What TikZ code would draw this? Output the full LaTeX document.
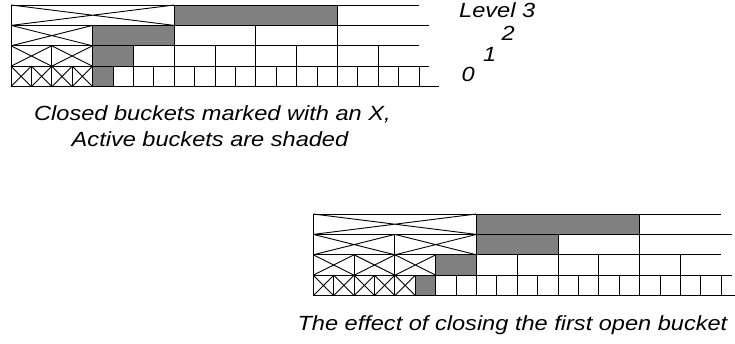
\documentclass[tikz,border=0pt]{standalone}
\usepackage{fontspec}
\setmainfont{Liberation Sans}
\usepackage{graphicx}

\definecolor{activefill}{RGB}{128,128,128}

% bucket width (one level-0 bucket) and row height
\def\U{20.4}
\def\H{20.4}

\tikzset{
  bucket/.style={draw=black, line width=0.9pt},
  active/.style={fill=activefill, draw=black, line width=0.9pt},
  label/.style={inner sep=0pt, font=\fontsize{20.5}{24}\selectfont\itshape},
}

% wide italic text
\newcommand\wtext[1]{\scalebox{1.15}[1]{#1}}

% Multi-level bucket queue: #1,#2 = top-left corner,
% #3..#6 = number of closed buckets on levels 0..3
\newcommand\drawqueue[6]{%
  \begin{scope}[shift={(#1,#2)}]
    \foreach \L/\w/\c/\last in {0/1/#3/20, 1/2/#4/18, 2/4/#5/16, 3/8/#6/16} {
      \pgfmathsetmacro\yt{(3-\L)*\H}
      \pgfmathsetmacro\yb{(4-\L)*\H}
      % closed buckets, crossed out
      \foreach \k in {1,...,\c} {
        \pgfmathsetmacro\xa{(\k-1)*\w*\U}
        \pgfmathsetmacro\xb{\k*\w*\U}
        \draw[bucket] (\xa,\yt) rectangle (\xb,\yb);
        \draw[bucket] (\xa,\yt) -- (\xb,\yb) (\xa,\yb) -- (\xb,\yt);
      }
      % the active bucket
      \pgfmathsetmacro\xa{\c*\w*\U}
      \pgfmathsetmacro\xb{(\c+1)*\w*\U}
      \draw[active] (\xa,\yt) rectangle (\xb,\yb);
      % dividers between open buckets
      \pgfmathtruncatemacro\kfirst{\c+2}
      \pgfmathtruncatemacro\klast{\last/\w}
      \ifnum\kfirst>\klast\else
        \foreach \k in {\kfirst,...,\klast} {
          \draw[bucket] ({\k*\w*\U},\yt) -- ({\k*\w*\U},\yb);
        }
      \fi
    }
    % row boundaries
    \draw[bucket] (0,0) -- ({20*\U},0);
    \draw[bucket] (0,\H) -- ({20.5*\U},\H);
    \draw[bucket] (0,{2*\H}) -- ({20*\U},{2*\H});
    \draw[bucket] (0,{3*\H}) -- ({20.5*\U},{3*\H});
    \draw[bucket] (0,{4*\H}) -- ({21*\U},{4*\H});
  \end{scope}}

\begin{document}
\begin{tikzpicture}[x=1pt, y=-1pt]
  \useasboundingbox (0,0) rectangle (735,343);

  % queue before closing the first open bucket
  \drawqueue{11}{5}{4}{2}{1}{1}

  % level labels
  \node[label, anchor=base west] (lvl3) at (459,17.3) {\wtext{Level 3}};
  \node[label, anchor=base west] (lvl2) at (501.5,40) {\wtext{2}};
  \node[label, anchor=base west] (lvl1) at (483,61.7) {\wtext{1}};
  \node[label, anchor=base west] (lvl0) at (461.5,81.7) {\wtext{0}};

  \node[label, anchor=base west] (capA) at (34,120.7)
    {\wtext{Closed buckets marked with an X,}};
  \node[label, anchor=base] (capB) at (210,146.7)
    {\wtext{Active buckets are shaded}};

  % queue after closing it
  \drawqueue{313.3}{214}{5}{3}{2}{1}

  \node[label, anchor=base west] (capC) at (297.3,330)
    {\wtext{The effect of closing the first open bucket}};
\end{tikzpicture}
\end{document}
